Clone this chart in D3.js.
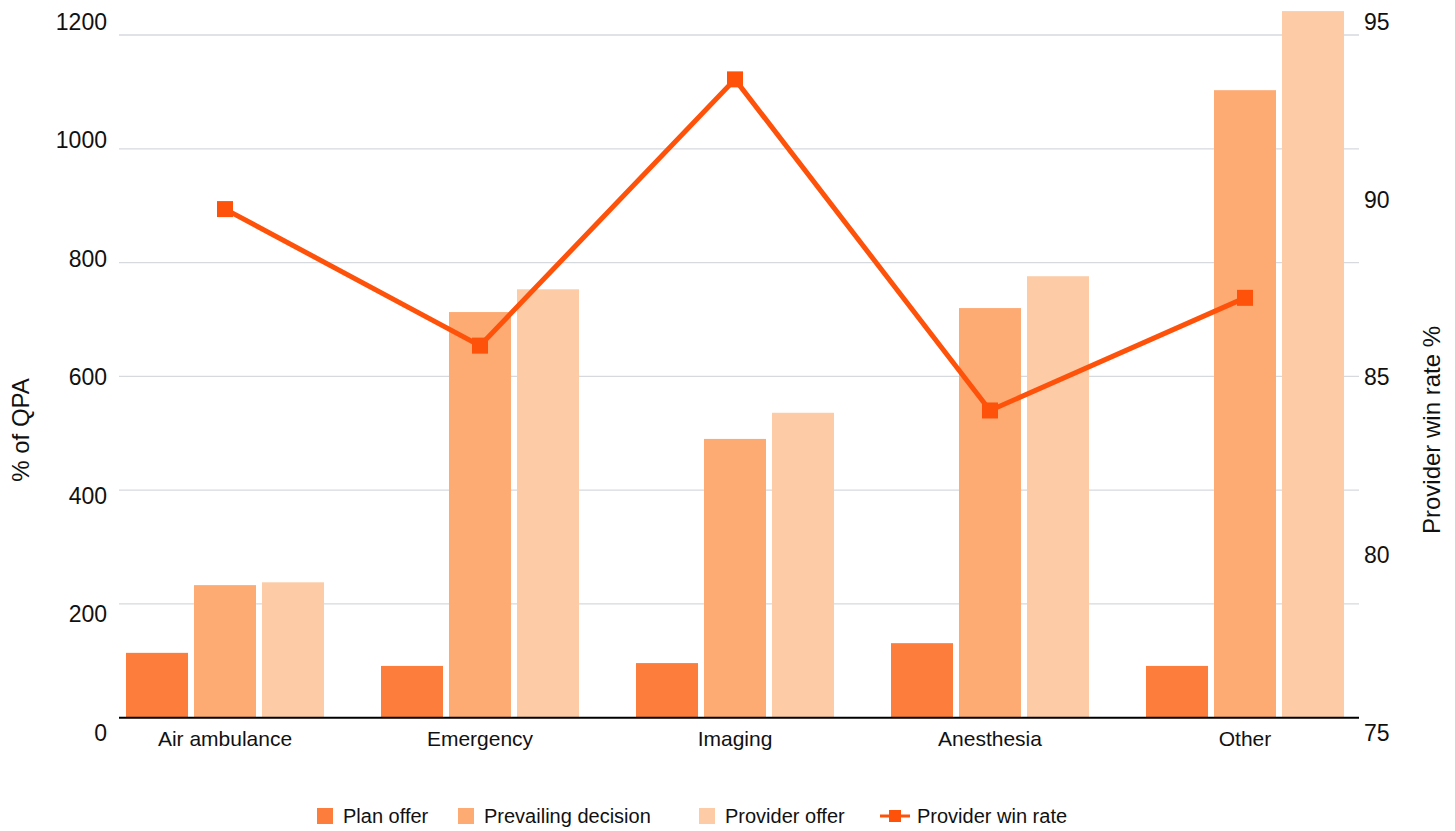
<!DOCTYPE html>
<html>
<head>
<meta charset="utf-8">
<script src="https://cdn.jsdelivr.net/npm/d3@7/dist/d3.min.js"></script>
<style>
  html, body { margin: 0; padding: 0; background: #fff; }
  svg { display: block; font-family: "Liberation Sans", Arial, Helvetica, sans-serif; }
</style>
</head>
<body>
<svg id="chart" width="1455" height="831"></svg>
<script>
// Categories and series
const categories = ["Air ambulance", "Emergency", "Imaging", "Anesthesia", "Other"];
const seriesNames = ["Plan offer", "Prevailing decision", "Provider offer"];
const planOffer = [114, 91, 96, 131, 91];
const prevailingDecision = [233, 713, 490, 720, 1103];
const providerOffer = [238, 753, 536, 776, 1242];
const providerWinRate = [89.9, 85.9, 93.7, 84.0, 87.3];
const leftTicks = [0, 200, 400, 600, 800, 1000, 1200];
const rightTicks = [75, 80, 85, 90, 95];

const barColors = ["#fd7e3c", "#fdaa73", "#fdcca6"];
const lineColor = "#fe520a";
const seriesValues = [planOffer, prevailingDecision, providerOffer];

const svg = d3.select("#chart");

const plotLeft = 119, plotRight = 1359, plotTop = 35, plotBottom = 717.7;

const x0 = d3.scaleBand().domain(categories).range([126, 1344]).paddingInner(57 / 255).paddingOuter(0);
const x1 = d3.scaleBand().domain(seriesNames).range([0, x0.bandwidth()]).paddingInner(0.088).paddingOuter(0);

const yLeft = d3.scaleLinear().domain([0, 1200]).range([plotBottom, plotTop]);
const yRight = d3.scaleLinear().domain([75, 95]).range([plotBottom, plotTop]);

// Tick labels sit on an evenly spaced column slightly taller than the plot
const yLeftLabel = d3.scaleLinear().domain([0, 1200]).range([733, 22]);
const yRightLabel = d3.scaleLinear().domain([75, 95]).range([733, 22]);

// Gridlines
svg.append("g")
  .selectAll("line")
  .data(leftTicks.filter(d => d > 0))
  .join("line")
  .attr("x1", plotLeft).attr("x2", plotRight)
  .attr("y1", d => yLeft(d)).attr("y2", d => yLeft(d))
  .attr("stroke", "#d6d9de").attr("stroke-width", 1.3);

// Left axis labels
const leftAxis = svg.append("g")
  .attr("transform", "translate(107,0)")
  .call(d3.axisLeft(yLeftLabel).tickValues(leftTicks).tickSize(0).tickPadding(0).tickFormat(d3.format("d")));
leftAxis.select(".domain").remove();
leftAxis.selectAll("text").attr("font-size", 23).attr("fill", "#111").attr("font-family", "Liberation Sans, Arial, sans-serif");

// Right axis labels
const rightAxis = svg.append("g")
  .attr("transform", "translate(1364,0)")
  .call(d3.axisRight(yRightLabel).tickValues(rightTicks).tickSize(0).tickPadding(0).tickFormat(d3.format("d")));
rightAxis.select(".domain").remove();
rightAxis.selectAll("text").attr("font-size", 23).attr("fill", "#111").attr("font-family", "Liberation Sans, Arial, sans-serif");

// Bars
const groups = svg.append("g")
  .selectAll("g")
  .data(categories)
  .join("g")
  .attr("transform", d => `translate(${x0(d)},0)`);

groups.selectAll("rect")
  .data((c, i) => seriesNames.map((s, j) => ({ s, j, v: seriesValues[j][i] })))
  .join("rect")
  .attr("x", d => x1(d.s))
  .attr("width", x1.bandwidth())
  .attr("y", d => yLeft(d.v))
  .attr("height", d => yLeft(0) - yLeft(d.v))
  .attr("fill", d => barColors[d.j]);

// Baseline
svg.append("line")
  .attr("x1", plotLeft).attr("x2", plotRight)
  .attr("y1", plotBottom).attr("y2", plotBottom)
  .attr("stroke", "#000").attr("stroke-width", 2);

// Category labels
svg.append("g")
  .selectAll("text")
  .data(categories)
  .join("text")
  .attr("x", d => x0(d) + x0.bandwidth() / 2)
  .attr("y", 746)
  .attr("text-anchor", "middle")
  .attr("font-size", 21)
  .attr("fill", "#111")
  .text(d => d);

// Win rate line
const cx = c => x0(c) + x0.bandwidth() / 2;
const line = d3.line()
  .x((d, i) => cx(categories[i]))
  .y(d => yRight(d));

svg.append("path")
  .datum(providerWinRate)
  .attr("d", line)
  .attr("fill", "none")
  .attr("stroke", lineColor)
  .attr("stroke-width", 5)
  .attr("stroke-linejoin", "miter");

svg.append("g")
  .selectAll("rect")
  .data(providerWinRate)
  .join("rect")
  .attr("x", (d, i) => cx(categories[i]) - 8)
  .attr("y", d => yRight(d) - 8)
  .attr("width", 16).attr("height", 16)
  .attr("fill", lineColor);

// Axis titles
svg.append("text")
  .attr("transform", "translate(29,430) rotate(-90)")
  .attr("text-anchor", "middle")
  .attr("font-size", 24)
  .attr("fill", "#111")
  .text("% of QPA");

svg.append("text")
  .attr("transform", "translate(1440,430) rotate(-90)")
  .attr("text-anchor", "middle")
  .attr("font-size", 24)
  .attr("fill", "#111")
  .text("Provider win rate %");

// Legend
const legendItems = [
  { name: "Plan offer", kind: "box", color: barColors[0], x: 317 },
  { name: "Prevailing decision", kind: "box", color: barColors[1], x: 458 },
  { name: "Provider offer", kind: "box", color: barColors[2], x: 699 },
  { name: "Provider win rate", kind: "line", color: lineColor, x: 880 }
];
const legendY = 816;
const lg = svg.append("g");
legendItems.forEach(item => {
  if (item.kind === "box") {
    lg.append("rect")
      .attr("x", item.x).attr("y", legendY - 8)
      .attr("width", 16).attr("height", 16)
      .attr("fill", item.color);
    lg.append("text")
      .attr("x", item.x + 26).attr("y", legendY + 7)
      .attr("font-size", 20).attr("fill", "#111")
      .text(item.name);
  } else {
    lg.append("line")
      .attr("x1", item.x).attr("x2", item.x + 30)
      .attr("y1", legendY).attr("y2", legendY)
      .attr("stroke", item.color).attr("stroke-width", 3);
    lg.append("rect")
      .attr("x", item.x + 9).attr("y", legendY - 6)
      .attr("width", 12).attr("height", 12)
      .attr("fill", item.color);
    lg.append("text")
      .attr("x", item.x + 37).attr("y", legendY + 7)
      .attr("font-size", 20).attr("fill", "#111")
      .text(item.name);
  }
});
</script>
</body>
</html>
